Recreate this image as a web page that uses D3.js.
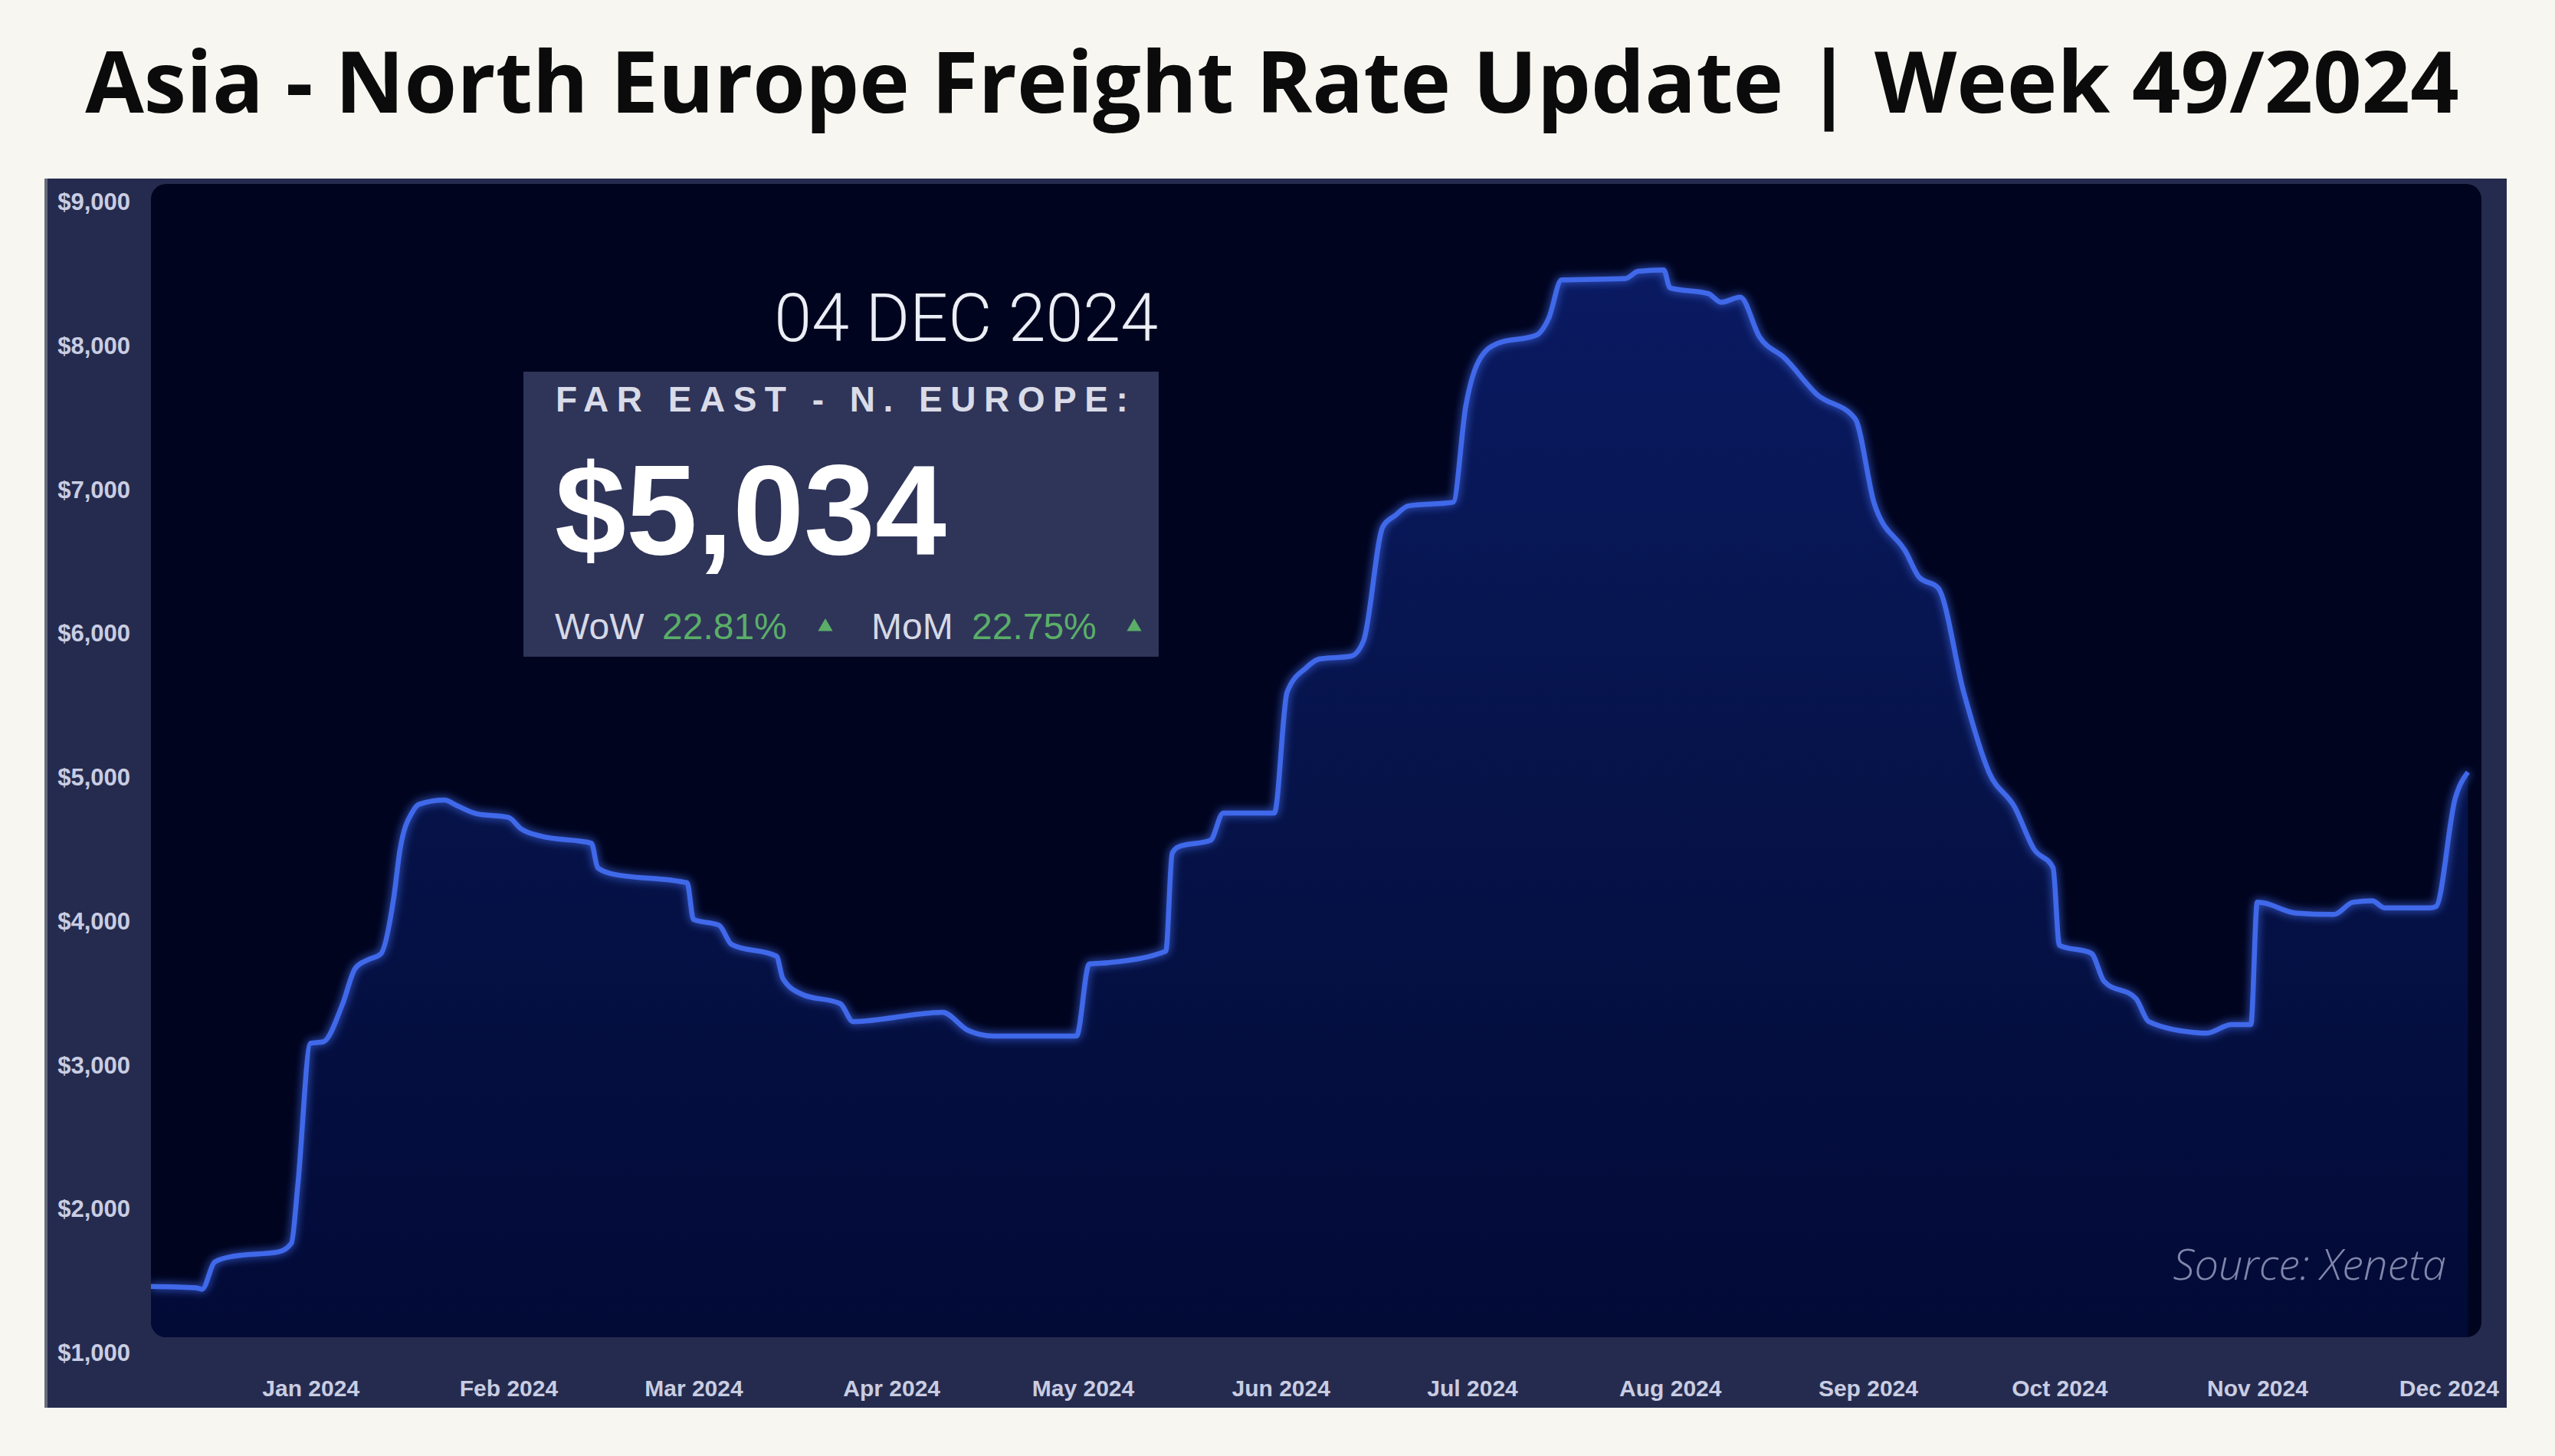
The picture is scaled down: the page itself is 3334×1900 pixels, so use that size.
<!DOCTYPE html>
<html>
<head>
<meta charset="utf-8">
<script src="https://cdn.jsdelivr.net/npm/d3@7"></script>
<style>
body { margin: 0; background: #f7f6f1; }
svg { display: block; }
</style>
</head>
<body>
<svg width="3334" height="1900"></svg>
<script>
// Data (Xeneta, Far East - N. Europe, USD per FEU)
var dates = ["2023-12-07","2023-12-14","2023-12-15","2023-12-17","2023-12-20","2023-12-27","2023-12-29","2023-12-30",
  "2024-01-01","2024-01-03","2024-01-06","2024-01-08","2024-01-10","2024-01-12","2024-01-14","2024-01-15","2024-01-17",
  "2024-01-18","2024-01-22","2024-01-24","2024-01-27","2024-02-01","2024-02-03","2024-02-06","2024-02-14","2024-02-15",
  "2024-02-17","2024-02-29","2024-03-01","2024-03-05","2024-03-07","2024-03-14","2024-03-15","2024-03-18","2024-03-24",
  "2024-03-26","2024-04-07","2024-04-09","2024-04-13","2024-04-17","2024-04-30","2024-05-02","2024-05-05","2024-05-14",
  "2024-05-15","2024-05-16","2024-05-21","2024-05-23","2024-05-31","2024-06-02","2024-06-05","2024-06-07","2024-06-12",
  "2024-06-14","2024-06-17","2024-06-19","2024-06-21","2024-06-28","2024-06-30","2024-07-02","2024-07-05","2024-07-11",
  "2024-07-13","2024-07-15","2024-07-25","2024-07-27","2024-07-31","2024-08-01","2024-08-07","2024-08-09","2024-08-12",
  "2024-08-15","2024-08-19","2024-08-24","2024-08-30","2024-09-02","2024-09-07","2024-09-09","2024-09-12","2024-09-16",
  "2024-09-20","2024-09-24","2024-09-27","2024-09-30","2024-10-01","2024-10-06","2024-10-08","2024-10-13","2024-10-15",
  "2024-10-22","2024-10-24","2024-10-28","2024-10-31","2024-11-01","2024-11-02","2024-11-07","2024-11-13","2024-11-16",
  "2024-11-19","2024-11-21","2024-11-28","2024-11-29","2024-12-02","2024-12-04"];
var rates = [1460,1450,1440,1630,1670,1700,1760,2160,
  3150,3160,3420,3670,3730,3770,4150,4490,4760,
  4810,4840,4800,4745,4720,4640,4590,4540,4370,
  4330,4265,4010,3970,3835,3755,3600,3490,3425,
  3300,3360,3365,3240,3200,3200,3700,3710,3790,
  4470,4515,4560,4750,4750,5590,5760,5820,5840,
  5950,6740,6820,6885,6910,7580,7890,8015,8070,
  8190,8455,8465,8515,8525,8400,8360,8300,8335,
  8060,7910,7660,7490,6900,6560,6390,6315,5590,
  5030,4790,4500,4370,3830,3775,3580,3460,3300,
  3225,3220,3280,3280,4130,4125,4055,4045,4130,
  4140,4090,4090,4100,4850,5034];
var yTicks = [1000,2000,3000,4000,5000,6000,7000,8000,9000];
var title = "Asia - North Europe Freight Rate Update | Week 49/2024";
var dateLabel = "04 DEC 2024";
var routeLabel = "FAR EAST - N. EUROPE:";
var latestLabel = "$5,034";
var changeNames = ["WoW", "MoM"];
var changeValues = ["22.81%", "22.75%"];
var sourceLabel = "Source: Xeneta";

var svg = d3.select("svg"),
  width = +svg.attr("width"),
  height = +svg.attr("height");

var parse = d3.timeParse("%Y-%m-%d");
var data = dates.map(function(d, i) { return {date: parse(d), value: rates[i]}; });

// plot area
var plot = {left: 197, top: 240, right: 3238, bottom: 1745};

var x = d3.scaleTime()
  .domain([parse("2023-12-07"), parse("2024-12-06")])
  .range([plot.left, plot.right - 1]);
var y = d3.scaleLinear()
  .domain([1000, 9000])
  .range([1765, 263]);

var defs = svg.append("defs");
var grad = defs.append("linearGradient").attr("id", "areaGrad")
  .attr("gradientUnits", "userSpaceOnUse")
  .attr("x1", 0).attr("y1", 330).attr("x2", 0).attr("y2", plot.bottom);
grad.append("stop").attr("offset", 0).attr("stop-color", "#0a1a62");
grad.append("stop").attr("offset", 0.5).attr("stop-color", "#061349");
grad.append("stop").attr("offset", 1).attr("stop-color", "#020a36");

var glow = defs.append("filter").attr("id", "glow")
  .attr("x", "-5%").attr("y", "-5%").attr("width", "110%").attr("height", "110%");
glow.append("feGaussianBlur").attr("in", "SourceGraphic").attr("stdDeviation", 6).attr("result", "blur");
var merge = glow.append("feMerge");
merge.append("feMergeNode").attr("in", "blur");
merge.append("feMergeNode").attr("in", "SourceGraphic");

defs.append("clipPath").attr("id", "plotClip")
  .append("rect")
  .attr("x", plot.left).attr("y", plot.top)
  .attr("width", plot.right - plot.left).attr("height", plot.bottom - plot.top)
  .attr("rx", 20);

// title
svg.append("text")
  .attr("x", 1660).attr("y", 147)
  .attr("text-anchor", "middle")
  .attr("font-family", "'Open Sans', sans-serif")
  .attr("font-weight", 700)
  .attr("font-size", 111)
  .attr("fill", "#0b0b0b")
  .text(title);

// panel
svg.append("rect")
  .attr("x", 58).attr("y", 233).attr("width", 3213).attr("height", 1604)
  .attr("fill", "#252b4e");
svg.append("rect")
  .attr("x", 58).attr("y", 233).attr("width", 4).attr("height", 1604)
  .attr("fill", "#666a7c");

// inner plot background
svg.append("rect")
  .attr("x", plot.left).attr("y", plot.top)
  .attr("width", plot.right - plot.left).attr("height", plot.bottom - plot.top)
  .attr("rx", 20)
  .attr("fill", "#00041f");

var g = svg.append("g").attr("clip-path", "url(#plotClip)");

var area = d3.area()
  .x(function(d) { return x(d.date); })
  .y0(plot.bottom)
  .y1(function(d) { return y(d.value); })
  .curve(d3.curveMonotoneX);
var line = d3.line()
  .x(function(d) { return x(d.date); })
  .y(function(d) { return y(d.value); })
  .curve(d3.curveMonotoneX);

g.append("path").datum(data)
  .attr("d", area)
  .attr("fill", "url(#areaGrad)");
g.append("path").datum(data)
  .attr("d", line)
  .attr("fill", "none")
  .attr("stroke", "#4169ea")
  .attr("stroke-width", 6.5)
  .attr("stroke-linejoin", "round")
  .attr("filter", "url(#glow)");

// y axis labels
svg.append("g").selectAll("text")
  .data(yTicks).enter()
  .append("text")
  .attr("x", 170)
  .attr("y", function(d) { return y(d); })
  .attr("dy", "0.36em")
  .attr("text-anchor", "end")
  .attr("font-family", "'Liberation Sans', Arial, sans-serif")
  .attr("font-weight", 700)
  .attr("font-size", 31)
  .attr("fill", "#c9cde2")
  .text(d3.format("$,"));

// x axis
var xAxis = d3.axisBottom(x)
  .ticks(d3.timeMonth.every(1))
  .tickFormat(d3.timeFormat("%b %Y"))
  .tickSize(0)
  .tickPadding(0);
var ax = svg.append("g")
  .attr("transform", "translate(0,1811)")
  .call(xAxis);
ax.select(".domain").remove();
ax.selectAll("text")
  .attr("dy", "0.36em")
  .attr("font-family", "'Liberation Sans', Arial, sans-serif")
  .attr("font-weight", 700)
  .attr("font-size", 30)
  .attr("fill", "#c9cde2");

// annotation
svg.append("text")
  .attr("x", 1511).attr("y", 445)
  .attr("text-anchor", "end")
  .attr("font-family", "Roboto, sans-serif")
  .attr("font-weight", 300)
  .attr("font-size", 88)
  .attr("fill", "#eceef6")
  .text(dateLabel);

svg.append("rect")
  .attr("x", 683).attr("y", 485).attr("width", 829).attr("height", 372)
  .attr("fill", "#2f3459");

svg.append("text")
  .attr("x", 725).attr("y", 537)
  .attr("font-family", "'Liberation Sans', Arial, sans-serif")
  .attr("font-weight", 700)
  .attr("font-size", 46)
  .attr("letter-spacing", 10.5)
  .attr("fill", "#d9dce8")
  .text(routeLabel);

svg.append("text")
  .attr("x", 724).attr("y", 723)
  .attr("font-family", "'Liberation Sans', Arial, sans-serif")
  .attr("font-weight", 700)
  .attr("font-size", 167)
  .attr("fill", "#ffffff")
  .text(latestLabel);

var nameX = [724, 1137], valX = [864, 1268], triX = [1077, 1480];
changeNames.forEach(function(n, i) {
  svg.append("text")
    .attr("x", nameX[i]).attr("y", 834)
    .attr("font-family", "'Liberation Sans', Arial, sans-serif")
    .attr("font-size", 48)
    .attr("fill", "#d6d9e6")
    .text(n);
  svg.append("text")
    .attr("x", valX[i]).attr("y", 834)
    .attr("font-family", "'Liberation Sans', Arial, sans-serif")
    .attr("font-size", 48)
    .attr("fill", "#5aae68")
    .text(changeValues[i]);
  svg.append("path")
    .attr("d", d3.symbol(d3.symbolTriangle, 160)())
    .attr("transform", "translate(" + triX[i] + ",818)")
    .attr("fill", "#5aae68");
});

// source
svg.append("text")
  .attr("x", 3192).attr("y", 1670)
  .attr("text-anchor", "end")
  .attr("font-family", "'Open Sans', sans-serif")
  .attr("font-style", "italic")
  .attr("font-weight", 300)
  .attr("font-size", 56)
  .attr("fill", "#8087ab")
  .text(sourceLabel);
</script>
</body>
</html>
